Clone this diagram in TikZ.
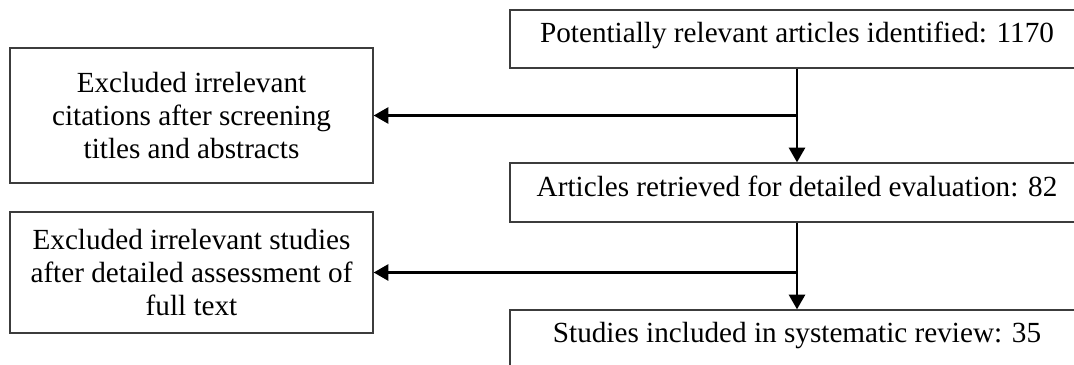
\documentclass[tikz,border=0pt]{standalone}
\usepackage{fontspec}
\setmainfont{Liberation Serif}
\usepackage{tikz}
\usetikzlibrary{arrows.meta}
\definecolor{boxline}{HTML}{3C3C3C}

\tikzset{
    stagebox/.style={draw=boxline, line width=1pt, rectangle, minimum width=430.5pt,
        minimum height=43.5pt, inner sep=0pt, text height=0.72em, text depth=0.16em},
    exclbox/.style={draw=boxline, line width=1pt, rectangle, minimum width=272.25pt,
        inner sep=0pt, align=center},
    flow/.style={draw=black, line width=2pt, -{Triangle[width=12pt,length=11pt]}}
}

\begin{document}
\begin{tikzpicture}[x=0.75pt, y=-0.75pt, font=\fontsize{21.9}{24.75}\selectfont]
    % Page frame
    \useasboundingbox (0,0) rectangle (1074,364);
    \clip (0,0) rectangle (1074,364);

    % Main stages
    \node[stagebox] (found) at (797,39) {Potentially relevant articles identified: 1170};
    \node[stagebox, minimum height=44.25pt] (retrieved) at (797,192.5) {Articles retrieved for detailed evaluation: 82};
    \node[stagebox] (included) at (797,339) {Studies included in systematic review: 35};

    % Exclusions
    \node[exclbox, minimum height=101.25pt] (screened) at (191.5,115.5)
        {Excluded irrelevant\\citations after screening\\titles and abstracts};
    \node[exclbox, minimum height=90.75pt] (assessed) at (191.5,272.5)
        {Excluded irrelevant studies\\after detailed assessment of\\full text};

    % Flow arrows
    \draw[flow] (found) -- (retrieved);
    \draw[flow] (retrieved) -- (included);
    \draw[flow] (found.south |- screened.east) -- (screened.east);
    \draw[flow] (retrieved.south |- assessed.east) -- (assessed.east);
\end{tikzpicture}
\end{document}
